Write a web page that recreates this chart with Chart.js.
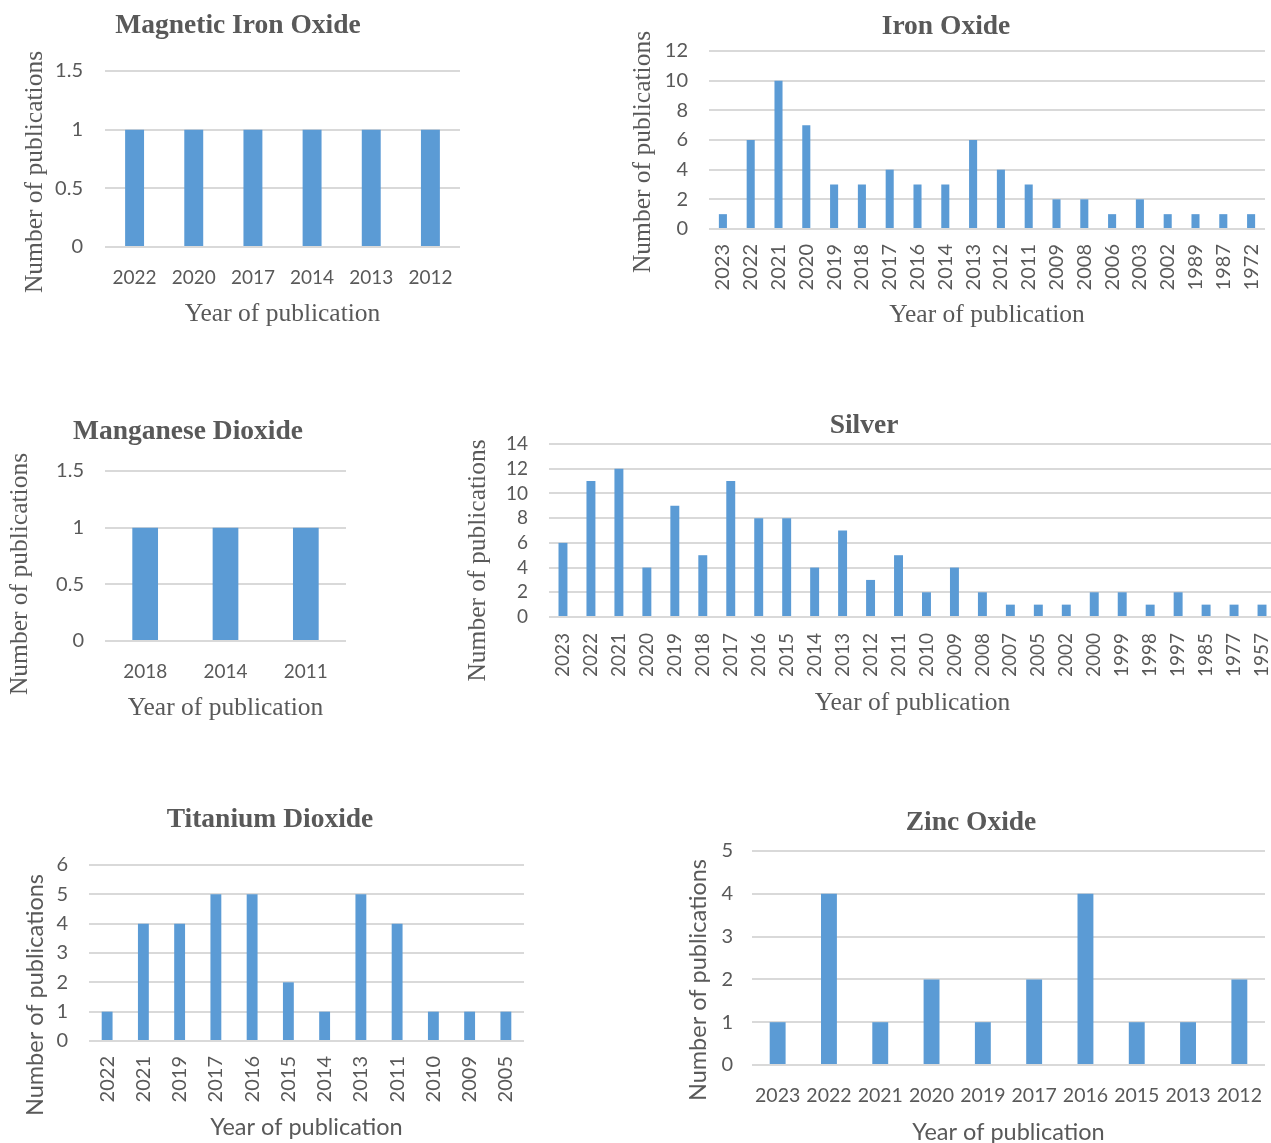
<!DOCTYPE html>
<html>
<head>
<meta charset="utf-8">
<script src="https://cdn.jsdelivr.net/npm/chart.js@4.4.1/dist/chart.umd.min.js"></script>
<style>
  html, body { margin: 0; padding: 0; background: #fff; overflow: hidden; width: 1271px; height: 1143px; }
  canvas { position: absolute; }
</style>
</head>
<body>
<canvas id="magnetic"></canvas>
<canvas id="ironOxide"></canvas>
<canvas id="manganese"></canvas>
<canvas id="silver"></canvas>
<canvas id="titanium"></canvas>
<canvas id="zinc"></canvas>
<script>
// Publications per year, one pair of arrays per nanoparticle type
const magneticYears = ['2022', '2020', '2017', '2014', '2013', '2012'];
const magneticCounts = [1, 1, 1, 1, 1, 1];

const ironOxideYears = ['2023', '2022', '2021', '2020', '2019', '2018', '2017', '2016', '2014', '2013',
                        '2012', '2011', '2009', '2008', '2006', '2003', '2002', '1989', '1987', '1972'];
const ironOxideCounts = [1, 6, 10, 7, 3, 3, 4, 3, 3, 6, 4, 3, 2, 2, 1, 2, 1, 1, 1, 1];

const manganeseYears = ['2018', '2014', '2011'];
const manganeseCounts = [1, 1, 1];

const silverYears = ['2023', '2022', '2021', '2020', '2019', '2018', '2017', '2016', '2015', '2014',
                     '2013', '2012', '2011', '2010', '2009', '2008', '2007', '2005', '2002', '2000',
                     '1999', '1998', '1997', '1985', '1977', '1957'];
const silverCounts = [6, 11, 12, 4, 9, 5, 11, 8, 8, 4, 7, 3, 5, 2, 4, 2, 1, 1, 1, 2, 2, 1, 2, 1, 1, 1];

const titaniumYears = ['2022', '2021', '2019', '2017', '2016', '2015', '2014', '2013', '2011', '2010', '2009', '2005'];
const titaniumCounts = [1, 4, 4, 5, 5, 2, 1, 5, 4, 1, 1, 1];

const zincYears = ['2023', '2022', '2021', '2020', '2019', '2017', '2016', '2015', '2013', '2012'];
const zincCounts = [1, 4, 1, 2, 1, 2, 4, 1, 1, 2];

const Y_TITLE = 'Number of publications';
const X_TITLE = 'Year of publication';

const BAR_BLUE = '#5b9bd5';
const TEXT_GREY = '#595959';
const GRID_GREY = '#d9d9d9';
const SERIF = "'Liberation Serif', 'Times New Roman', serif";
const SANS = "Lato, 'Open Sans', sans-serif";

// Rotated y-axis caption, drawn a little below the middle of the plot
const sideTitle = {
  id: 'sideTitle',
  afterDraw(chart, args, o) {
    if (!o || !o.text) return;
    const { ctx, chartArea } = chart;
    ctx.save();
    ctx.font = `${o.size}px ${o.family}`;
    ctx.fillStyle = o.color;
    ctx.textAlign = 'center';
    ctx.textBaseline = 'middle';
    ctx.translate(o.x, (chartArea.top + chartArea.bottom) / 2 + o.shift);
    ctx.rotate(-Math.PI / 2);
    ctx.fillText(o.text, 0, 0);
    ctx.restore();
  }
};

function barPanel(p) {
  const canvas = document.getElementById(p.id);
  canvas.width = p.w;
  canvas.height = p.h;
  canvas.style.left = p.left + 'px';
  canvas.style.top = p.top + 'px';

  return new Chart(canvas, {
    type: 'bar',
    data: {
      labels: p.labels,
      datasets: [{
        data: p.values,
        backgroundColor: BAR_BLUE,
        borderWidth: 0,
        barPercentage: p.barPct,
        categoryPercentage: 1
      }]
    },
    plugins: [sideTitle],
    options: {
      responsive: false,
      animation: false,
      events: [],
      layout: { padding: { left: p.padLeft, right: p.padRight, top: 0, bottom: 0 } },
      plugins: {
        legend: { display: false },
        tooltip: { enabled: false },
        title: {
          display: true,
          text: p.title,
          color: TEXT_GREY,
          font: { family: SERIF, size: 27.5, weight: 'bold', lineHeight: 1.2 },
          padding: { top: p.titleTop, bottom: p.titleBottom }
        },
        sideTitle: {
          text: Y_TITLE,
          x: p.yTitleX,
          shift: p.yTitleShift,
          size: p.axisTitleSize,
          family: p.axisTitleFamily,
          color: TEXT_GREY
        }
      },
      scales: {
        x: {
          grid: { display: false },
          border: { display: false },
          ticks: {
            color: TEXT_GREY,
            font: { family: SANS, size: p.xTickSize, lineHeight: 1.2 },
            padding: p.xTickPad,
            autoSkip: false,
            minRotation: p.rotate ? 90 : 0,
            maxRotation: p.rotate ? 90 : 0
          },
          title: {
            display: true,
            text: X_TITLE,
            color: TEXT_GREY,
            font: { family: p.axisTitleFamily, size: p.axisTitleSize, lineHeight: 1.2 },
            padding: { top: 0, bottom: p.xTitlePad }
          },
          afterFit: s => {
            s.height = p.xAxisHeight;
            s.paddingLeft = 0;
            s.paddingRight = 0;
          }
        },
        y: {
          min: 0,
          max: p.yMax,
          grid: { color: GRID_GREY, lineWidth: 2, drawTicks: false },
          border: { display: false },
          ticks: {
            stepSize: p.yStep,
            autoSkip: false,
            color: TEXT_GREY,
            font: { family: SANS, size: p.yTickSize, lineHeight: 1.2 },
            padding: p.yTickPad,
            callback: v => String(Number(v.toFixed(2)))
          },
          afterFit: s => { s.width = p.yAxisWidth; }
        }
      }
    }
  });
}

barPanel({
  id: 'magnetic', title: 'Magnetic Iron Oxide', labels: magneticYears, values: magneticCounts,
  left: 10, top: 0, w: 450, h: 340, padLeft: 6, padRight: 0,
  titleTop: 9, titleBottom: 29,
  yAxisWidth: 89, yTickPad: 22, yTickSize: 20, yMax: 1.5, yStep: 0.5,
  xAxisHeight: 93, xTickPad: 11.6, xTickSize: 19, rotate: false, xTitlePad: 10.7,
  axisTitleFamily: SERIF, axisTitleSize: 25.5, yTitleX: 25, yTitleShift: 13, barPct: 0.32
});

barPanel({
  id: 'ironOxide', title: 'Iron Oxide', labels: ironOxideYears, values: ironOxideCounts,
  left: 621, top: 0, w: 644, h: 335, padLeft: 6, padRight: 0,
  titleTop: 10, titleBottom: 8,
  yAxisWidth: 82, yTickPad: 21, yTickSize: 20, yMax: 12, yStep: 2,
  xAxisHeight: 106, xTickPad: 7, xTickSize: 20, rotate: true, xTitlePad: 4.7,
  axisTitleFamily: SERIF, axisTitleSize: 25.5, yTitleX: 22, yTitleShift: 12, barPct: 0.29
});

barPanel({
  id: 'manganese', title: 'Manganese Dioxide', labels: manganeseYears, values: manganeseCounts,
  left: 0, top: 395, w: 346, h: 335, padLeft: 30, padRight: 0,
  titleTop: 20, titleBottom: 23,
  yAxisWidth: 75, yTickPad: 21, yTickSize: 20, yMax: 1.5, yStep: 0.5,
  xAxisHeight: 89, xTickPad: 11.6, xTickSize: 19, rotate: false, xTitlePad: 6.7,
  axisTitleFamily: SERIF, axisTitleSize: 25.5, yTitleX: 20, yTitleShift: 18, barPct: 0.32
});

barPanel({
  id: 'silver', title: 'Silver', labels: silverYears, values: silverCounts,
  left: 452, top: 395, w: 830, h: 330, padLeft: 0, padRight: 6,
  titleTop: 14, titleBottom: 2,
  yAxisWidth: 97, yTickPad: 21, yTickSize: 19, yMax: 14, yStep: 2,
  xAxisHeight: 108, xTickPad: 8, xTickSize: 19, rotate: true, xTitlePad: 6.7,
  axisTitleFamily: SERIF, axisTitleSize: 25.5, yTitleX: 26, yTitleShift: 30, barPct: 0.32
});

barPanel({
  id: 'titanium', title: 'Titanium Dioxide', labels: titaniumYears, values: titaniumCounts,
  left: 0, top: 790, w: 524, h: 353, padLeft: 16, padRight: 0,
  titleTop: 13, titleBottom: 29,
  yAxisWidth: 73, yTickPad: 21, yTickSize: 20, yMax: 6, yStep: 1,
  xAxisHeight: 102, xTickPad: 7, xTickSize: 20, rotate: true, xTitlePad: 1.9,
  axisTitleFamily: SANS, axisTitleSize: 23.5, yTitleX: 35, yTitleShift: 42, barPct: 0.30
});

barPanel({
  id: 'zinc', title: 'Zinc Oxide', labels: zincYears, values: zincCounts,
  left: 671, top: 790, w: 594, h: 360, padLeft: 6, padRight: 0,
  titleTop: 16, titleBottom: 12,
  yAxisWidth: 75, yTickPad: 19, yTickSize: 20, yMax: 5, yStep: 1,
  xAxisHeight: 85, xTickPad: 11.3, xTickSize: 19.5, rotate: false, xTitlePad: 3.9,
  axisTitleFamily: SANS, axisTitleSize: 23.5, yTitleX: 27, yTitleShift: 22, barPct: 0.31
});
</script>
</body>
</html>
